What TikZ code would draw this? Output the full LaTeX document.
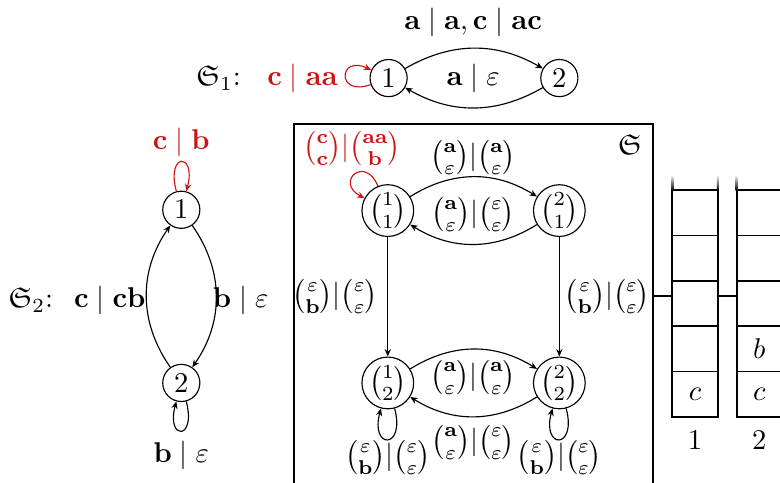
\documentclass[tikz,border=0pt]{standalone}
\usepackage{amsmath,amssymb}
\usetikzlibrary{arrows.meta,positioning}
\definecolor{loopred}{RGB}{205,20,20}
\tikzset{
  state/.style ={circle, draw, thin, minimum size=13pt, inner sep=0pt},
  pstate/.style={state, minimum size=15.5pt},
  trans/.style ={-{Stealth[length=2.6pt,width=2.2pt]}, thin},
  redtrans/.style={trans, loopred},
  frame/.style ={line width=0.75pt},
  tapeline/.style={line width=0.75pt},
  cellline/.style={line width=0.55pt},
}

\begin{document}
\begin{tikzpicture}[>=Stealth]
\useasboundingbox (0,0) rectangle (9.594,-5.929);
% first transducer
\node (s1name) at (2.69,-0.96) {$\mathfrak{S}_1$:};
\node[loopred] (s1red) at (3.72,-0.96) {$\mathbf{c}\mid\mathbf{aa}$};
\node[state] (p1) at (4.78,-0.96) {$1$};
\node[state] (p2) at (6.88,-0.96) {$2$};
\draw[trans] (p1) to[bend left=30] (p2);
\draw[trans] (p2) to[bend left=30] (p1);
\draw[redtrans] (p1) to[out=200, in=155, loop, min distance=4.5mm] (p1);
\node (s1top) at (5.82,-0.27) {$\mathbf{a}\mid\mathbf{a},\mathbf{c}\mid\mathbf{ac}$};
\node (s1bot) at (5.82,-0.96) {$\mathbf{a}\mid\varepsilon$};
% second transducer
\node (s2name) at (0.38,-3.69) {$\mathfrak{S}_2$:};
\node[state] (q1) at (2.23,-2.58) {$1$};
\node[state] (q2) at (2.23,-4.71) {$2$};
\draw[trans] (q1) to[bend left=35] (q2);
\draw[trans] (q2) to[bend left=35] (q1);
\draw[redtrans] (q1) to[loop above] (q1);
\draw[trans] (q2) to[loop below] (q2);
\node (s2left) at (1.35,-3.69) {$\mathbf{c}\mid\mathbf{cb}$};
\node (s2right) at (2.96,-3.69) {$\mathbf{b}\mid\varepsilon$};
\node[loopred] (s2red) at (2.23,-1.75) {$\mathbf{c}\mid\mathbf{b}$};
\node (s2bot) at (2.23,-5.60) {$\mathbf{b}\mid\varepsilon$};
% product
\draw[frame] (3.62,-6.1) |- (8.03,-1.53) -- (8.03,-6.1);
\node (prodname) at (7.75,-1.78) {$\mathfrak{S}$};
\node[pstate] (r11) at (4.77,-2.59) {$\binom{1}{1}$};
\node[pstate] (r21) at (6.88,-2.59) {$\binom{2}{1}$};
\node[pstate] (r12) at (4.77,-4.71) {$\binom{1}{2}$};
\node[pstate] (r22) at (6.88,-4.71) {$\binom{2}{2}$};
\draw[trans] (r11) to[bend left=32] (r21);
\draw[trans] (r21) to[bend left=32] (r11);
\draw[trans] (r12) to[bend left=32] (r22);
\draw[trans] (r22) to[bend left=32] (r12);
\draw[trans] (r11) -- (r12);
\draw[trans] (r21) -- (r22);
\draw[redtrans] (r11) to[out=112, in=152, loop, looseness=3, min distance=4.2mm] (r11);
\draw[trans] (r12) to[loop below] (r12);
\draw[trans] (r22) to[loop below] (r22);
\node[loopred, inner sep=1pt] (rred) at (4.33,-1.83) {$\binom{\mathbf{c}}{\mathbf{c}}|\binom{\mathbf{aa}}{\mathbf{b}}$};
\node (rtop) at (5.82,-1.94) {$\binom{\mathbf{a}}{\varepsilon}|\binom{\mathbf{a}}{\varepsilon}$};
\node (rmidA) at (5.82,-2.64) {$\binom{\mathbf{a}}{\varepsilon}|\binom{\varepsilon}{\varepsilon}$};
\node (rleft) at (4.12,-3.65) {$\binom{\varepsilon}{\mathbf{b}}|\binom{\varepsilon}{\varepsilon}$};
\node (rright) at (7.47,-3.65) {$\binom{\varepsilon}{\mathbf{b}}|\binom{\varepsilon}{\varepsilon}$};
\node (rmidB) at (5.82,-4.64) {$\binom{\mathbf{a}}{\varepsilon}|\binom{\mathbf{a}}{\varepsilon}$};
\node (rbot) at (5.82,-5.44) {$\binom{\mathbf{a}}{\varepsilon}|\binom{\varepsilon}{\varepsilon}$};
\node (rloopA) at (4.77,-5.63) {$\binom{\varepsilon}{\mathbf{b}}|\binom{\varepsilon}{\varepsilon}$};
\node (rloopB) at (6.88,-5.63) {$\binom{\varepsilon}{\mathbf{b}}|\binom{\varepsilon}{\varepsilon}$};
% tapes
\foreach \x in {8.27,9.06} {
  \draw[tapeline] (\x,-2.34) -- (\x,-5.125) -- (\x+0.56,-5.125) -- (\x+0.56,-2.34);
  \foreach \k in {0,...,4} \draw[cellline] (\x,-2.34-\k*0.557) -- ++(0.56,0);
  \shade[top color=white, bottom color=black] (\x-0.013,-2.15) rectangle (\x+0.013,-2.34);
  \shade[top color=white, bottom color=black] (\x+0.547,-2.15) rectangle (\x+0.573,-2.34);
}
\node (c1) at (8.55,-4.85) {$c$};
\node (c2) at (9.34,-4.85) {$c$};
\node (b2) at (9.34,-4.29) {$b$};
\node (t1lbl) at (8.55,-5.41) {$1$};
\node (t2lbl) at (9.34,-5.41) {$2$};
\coordinate (boxE) at (8.03,-3.64);
\coordinate (t1W) at (8.27,-3.64);
\coordinate (t1E) at (8.83,-3.64);
\coordinate (t2W) at (9.06,-3.64);
\draw[tapeline] (boxE) -- (t1W);
\draw[tapeline] (t1E) -- (t2W);
\end{tikzpicture}
\end{document}
